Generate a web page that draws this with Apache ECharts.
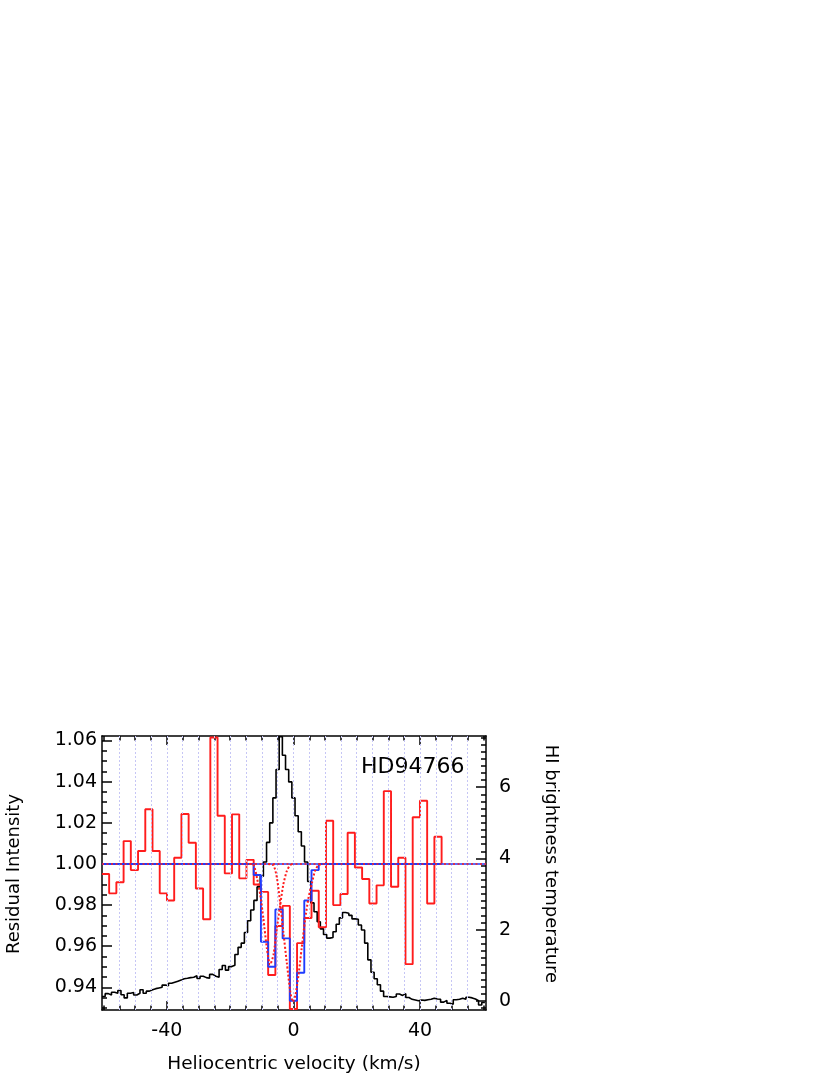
<!DOCTYPE html>
<html><head><meta charset="utf-8">
<script src="https://cdn.jsdelivr.net/npm/echarts@6/dist/echarts.min.js"></script>
<style>html,body{margin:0;padding:0;background:#fff}#c{width:830px;height:1075px}</style>
</head><body><div id="c"></div>
<script>
// ---- data ----
// red: observed residual intensity (bin centres, km/s)
const redVel = [-59.38,-57.10,-54.82,-52.53,-50.25,-47.96,-45.68,-43.40,-41.11,-38.83,
  -36.54,-34.26,-31.98,-29.69,-27.41,-25.12,-22.84,-20.56,-18.27,-15.99,
  -13.70,-11.42,-9.14,-6.85,-4.57,-2.28,0.00,2.28,4.57,6.85,
  9.14,11.42,13.70,15.99,18.27,20.56,22.84,25.12,27.41,29.69,
  31.98,34.26,36.54,38.83,41.11,43.40,45.68];
const residual = [0.9951,0.9857,0.9911,1.0111,0.9970,1.0063,1.0266,1.0063,0.9857,0.9822,
  1.0030,1.0243,1.0103,0.9881,0.9731,1.0615,1.0234,0.9954,1.0241,0.9930,
  1.0020,0.9900,0.9864,0.9460,0.9698,0.9796,0.9295,0.9615,0.9737,0.9870,
  0.9692,1.0210,0.9800,0.9854,1.0152,0.9983,0.9927,0.9808,0.9896,1.0354,
  0.9889,1.0030,0.9513,1.0227,1.0307,0.9808,1.0132];
// blue: fitted model in the same bins
const model = [1,1,1,1,1,1,1,1,1,1,
  1,1,1,1,1,1,1,1,1,1,
  1,0.9946,0.9622,0.9500,0.9779,0.9638,0.9335,0.9471,0.9822,0.9970,
  1,1,1,1,1,1,1,1,1,1,
  1,1,1,1,1,1,1];
// red dotted: two absorption components
const comp1Vel = [-14.0,-12.6,-11.5,-10.5,-9.5,-8.4,-7.4,-6.3,-5.2,-4.2,-3.2,-2.1,-1.0,0.0];
const comp1Val = [1.0,0.9995,0.993,0.985,0.9735,0.959,0.951,0.956,0.969,0.980,0.990,0.9965,0.9995,1.0];
const comp2Vel = [-8.0,-6.3,-5.2,-4.2,-3.2,-2.1,-1.0,-0.2,0.6,1.6,2.6,3.7,4.7,5.8,6.9,8.0,9.0];
const comp2Val = [1.0,0.9993,0.993,0.981,0.967,0.952,0.938,0.933,0.936,0.946,0.959,0.973,0.983,0.9905,0.997,0.9995,1.0];
// black: HI brightness temperature
const hiVel = [-60,-59,-58,-57,-56,-55,-54,-53,-52,-51,-50,-49,-48,-47,-46,-45,-44,-43,-42,-41,
  -40,-39,-38,-37,-36,-35,-34,-33,-32,-31,-30,-29,-28,-27,-26,-25,-24,-23,-22,-21,
  -20,-19,-18,-17,-16,-15,-14,-13,-12,-11,-10,-9,-8,-7,-6,-5,-4,-3,-2,-1,
  0,1,2,3,4,5,6,7,8,9,10,11,12,13,14,15,16,17,18,19,
  20,21,22,23,24,25,26,27,28,29,30,31,32,33,34,35,36,37,38,39,
  40,41,42,43,44,45,46,47,48,49,50,51,52,53,54,55,56,57,58,59,60];
const hiTemp = [0.12,0.20,0.16,0.24,0.21,0.29,0.17,0.08,0.21,0.23,0.16,0.21,0.31,0.21,0.27,0.31,0.34,0.36,0.38,0.44,
  0.42,0.49,0.52,0.55,0.58,0.62,0.63,0.65,0.66,0.70,0.63,0.69,0.65,0.63,0.74,0.69,0.66,0.88,0.99,0.86,
  0.96,1.00,1.30,1.50,1.62,1.92,2.25,2.55,2.82,3.20,3.50,3.90,4.45,5.00,5.70,6.50,7.42,6.90,6.50,6.15,
  5.70,5.20,4.75,4.35,3.90,3.35,2.75,2.50,2.22,2.02,1.86,1.76,1.78,1.94,2.15,2.33,2.48,2.46,2.40,2.30,
  2.29,2.13,1.99,1.62,1.15,0.80,0.62,0.45,0.27,0.12,0.11,0.10,0.12,0.19,0.15,0.20,0.09,0.04,0.02,0.00,
  0.02,0.01,0.03,0.04,0.07,0.05,0.04,-0.04,0.01,-0.07,-0.10,0.03,0.04,0.07,0.04,0.10,0.08,0.05,0.00,-0.12,-0.05];
// ticks
const xTickLabels = [-40, 0, 40];
const yLeftTickLabels = [0.94, 0.96, 0.98, 1.00, 1.02, 1.04, 1.06];
const yRightTickLabels = [0, 2, 4, 6];
const continuumLevel = 1.0;
const starName = 'HD94766';

// ---- ranges ----
const XMIN = -60.5, XMAX = 60.85;
const YMIN = 0.929, YMAX = 1.0622;
const TMIN = -0.26, TMAX = 7.44;

function seq(a, b, step, dec) { const r = []; for (let v = a; v <= b + step / 2; v += step) r.push(+v.toFixed(dec)); return r; }
const xMinor = seq(-60, 60, 5, 0);
const gridVel = seq(-55, 55, 5, 0);
const yLeftMinor = seq(0.930, 1.060, 0.005, 3);
const yRightMinor = seq(-0.2, 7.4, 0.2, 1);

// histogram outline from bin centres; optionally closes to a base level at the last edge
function stepPoints(c, v, closeTo) {
  const pts = [];
  let R = 0;
  for (let i = 0; i < c.length; i++) {
    const L = i > 0 ? (c[i - 1] + c[i]) / 2 : c[i] - (c[1] - c[0]) / 2;
    R = i < c.length - 1 ? (c[i] + c[i + 1]) / 2 : c[i] + (c[i] - c[i - 1]) / 2;
    pts.push([L, v[i]], [R, v[i]]);
  }
  if (closeTo !== undefined) pts.push([R, closeTo]);
  return pts;
}
function pairs(a, b) { return a.map((x, i) => [x, b[i]]); }

const FONT = 'DejaVu Sans';
const black = '#000';
const lineW = 1.5;

function xAx(pos, major, len, labels) {
  return {
    type: 'value', position: pos, min: XMIN, max: XMAX,
    axisLine: { show: major, onZero: false, lineStyle: { color: black, width: lineW } },
    axisTick: { show: true, inside: true, length: len, customValues: major ? xTickLabels : xMinor, lineStyle: { color: black, width: lineW } },
    axisLabel: labels ? { show: true, customValues: xTickLabels, margin: 12, fontSize: 19, fontFamily: FONT, color: black } : { show: false },
    splitLine: { show: false }, minorTick: { show: false }
  };
}
function yAx(pos, mn, mx, major, ticks, len, labels, margin, fmt) {
  return {
    type: 'value', position: pos, min: mn, max: mx,
    axisLine: { show: major, onZero: false, lineStyle: { color: black, width: lineW } },
    axisTick: { show: true, inside: true, length: len, customValues: ticks, lineStyle: { color: black, width: lineW } },
    axisLabel: labels ? { show: true, customValues: labels, margin: margin, fontSize: 19, fontFamily: FONT, color: black, formatter: fmt } : { show: false },
    splitLine: { show: false }
  };
}

const RED = '#ff1c1c';
const BLUE = '#1f3cff';
const chart = echarts.init(document.getElementById('c'), null, { renderer: 'canvas' });
chart.setOption({
  backgroundColor: '#fff',
  animation: false,
  grid: { left: 102, top: 736, width: 384, height: 274, containLabel: false },
  xAxis: [
    xAx('bottom', true, 9, true),
    xAx('bottom', false, 4.5, false),
    xAx('top', true, 9, false),
    xAx('top', false, 4.5, false)
  ],
  yAxis: [
    yAx('left', YMIN, YMAX, true, yLeftTickLabels, 10, yLeftTickLabels, 5, v => v.toFixed(2)),
    yAx('left', YMIN, YMAX, false, yLeftMinor, 5, null),
    yAx('right', TMIN, TMAX, true, yRightTickLabels, 10, yRightTickLabels, 13, v => String(v)),
    yAx('right', TMIN, TMAX, false, yRightMinor, 5, null)
  ],
  series: [
    { // vertical dotted grid
      type: 'line', xAxisIndex: 0, yAxisIndex: 0, data: [], z: 0, silent: true,
      markLine: { silent: true, symbol: ['none', 'none'], label: { show: false },
        lineStyle: { color: '#c6c6f5', type: [2, 2], width: 1 },
        data: gridVel.map(v => ({ xAxis: v })) }
    },
    { // HI
      type: 'line', xAxisIndex: 0, yAxisIndex: 2, data: stepPoints(hiVel, hiTemp), showSymbol: false, z: 2,
      lineStyle: { color: black, width: 1.6 }
    },
    { // observed
      type: 'line', xAxisIndex: 0, yAxisIndex: 0, data: stepPoints(redVel, residual, continuumLevel), showSymbol: false, z: 3,
      lineStyle: { color: RED, width: 1.9 }
    },
    { // model
      type: 'line', xAxisIndex: 0, yAxisIndex: 0, data: stepPoints(redVel, model), showSymbol: false, z: 4,
      lineStyle: { color: BLUE, width: 1.9 },
      markLine: { silent: true, symbol: ['none', 'none'], label: { show: false },
        lineStyle: { color: BLUE, type: 'solid', width: 1.6 }, data: [{ yAxis: continuumLevel }] }
    },
    { // component 1
      type: 'line', xAxisIndex: 0, yAxisIndex: 0, data: pairs(comp1Vel, comp1Val), showSymbol: false, z: 6, smooth: 0.25,
      lineStyle: { color: RED, width: 2, type: [2, 2] }
    },
    { // component 2
      type: 'line', xAxisIndex: 0, yAxisIndex: 0, data: pairs(comp2Vel, comp2Val), showSymbol: false, z: 6, smooth: 0.25,
      lineStyle: { color: RED, width: 2, type: [2, 2] },
      markLine: { silent: true, symbol: ['none', 'none'], label: { show: false },
        lineStyle: { color: RED, type: [2, 2.5], width: 1.6 }, data: [{ yAxis: continuumLevel }] }
    }
  ],
  graphic: [
    { type: 'text', x: 14, y: 874, rotation: Math.PI / 2, style: { text: 'Residual Intensity', fontSize: 18, fontFamily: FONT, fill: black, align: 'center', verticalAlign: 'middle' } },
    { type: 'text', x: 551, y: 864, rotation: -Math.PI / 2, style: { text: 'HI brightness temperature', fontSize: 18, fontFamily: FONT, fill: black, align: 'center', verticalAlign: 'middle' } },
    { type: 'text', x: 294, y: 1064, style: { text: 'Heliocentric velocity (km/s)', fontSize: 18.5, fontFamily: FONT, fill: black, align: 'center', verticalAlign: 'middle' } },
    { type: 'text', x: 361, y: 767, style: { text: starName, fontSize: 22, fontFamily: FONT, fill: black, align: 'left', verticalAlign: 'middle' } }
  ]
});
</script></body></html>
